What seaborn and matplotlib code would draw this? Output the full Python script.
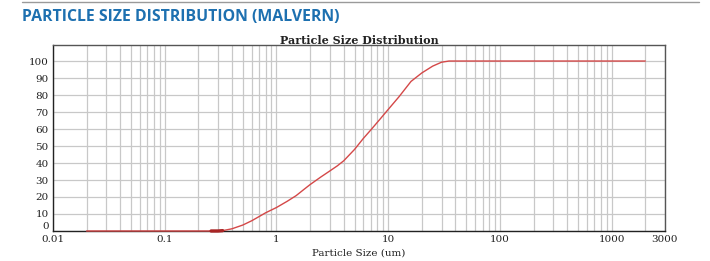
import matplotlib
matplotlib.use("Agg")
import matplotlib.pyplot as plt
import matplotlib.ticker as mticker
from matplotlib.lines import Line2D
import numpy as np
import pandas as pd
import seaborn as sns

# ---- data ----
size_um = [0.02, 0.1, 0.2, 0.26, 0.3, 0.33, 0.4, 0.5, 0.6, 0.7, 0.8, 1.0, 1.25, 1.5, 1.75, 2.0,
           2.5, 3.0, 3.5, 4.0, 5.0, 6.0, 7.0, 8.5, 10.0, 12.5, 16.0, 20.0, 25.0, 30.0, 35.0,
           100.0, 1000.0, 2000.0]
cum_pct = [0, 0, 0, 0, 0, 0.2, 1.3, 3.5, 6.0, 8.5, 10.7, 13.8, 17.5, 20.8, 24.3, 27.3,
           31.8, 35.3, 38.3, 41.3, 48.0, 54.5, 59.5, 66.0, 71.5, 79.0, 88.0, 93.0, 97.0, 99.3, 100,
           100, 100, 100]
x_tick_vals = [0.01, 0.1, 1, 10, 100, 1000, 3000]
x_tick_labels = ["0.01", "0.1", "1", "10", "100", "1000", "3000"]
y_tick_vals = [0, 10, 20, 30, 40, 50, 60, 70, 80, 90, 100]

df = pd.DataFrame({"size": size_um, "pct": cum_pct})
dark = df[(df["size"] >= 0.26) & (df["size"] <= 0.33)]

sns.set_style("white")
plt.rcParams["font.family"] = ["DejaVu Serif"]

fig = plt.figure(figsize=(7.10, 2.61), dpi=100)
ax = fig.add_axes([0.0746, 0.115, 0.862, 0.713])

sns.lineplot(data=df, x="size", y="pct", ax=ax, color="#d44848", linewidth=1.0,
             clip_on=False, zorder=3)
sns.lineplot(data=dark, x="size", y="pct", ax=ax, color="#a82424", linewidth=2.4,
             clip_on=False, zorder=3)

ax.set_xscale("log")
ax.set_xlim(0.01, 3000)
ax.set_ylim(0, 109.5)

ax.set_xticks(x_tick_vals)
ax.set_xticklabels(x_tick_labels)
ax.xaxis.set_minor_locator(mticker.LogLocator(base=10, subs=[2, 3, 4, 5, 6, 7, 8, 9], numticks=20))
ax.xaxis.set_minor_formatter(mticker.NullFormatter())
ax.set_yticks(y_tick_vals)
ax.yaxis.set_minor_locator(mticker.NullLocator())

ax.grid(True, which="both", axis="x", color="#c8c8c8", linewidth=0.9)
ax.grid(True, which="major", axis="y", color="#c8c8c8", linewidth=0.9)
ax.set_axisbelow(True)

ax.tick_params(axis="both", which="both", length=0, labelsize=7.5, colors="#222222")
ax.tick_params(axis="x", pad=3)
ax.tick_params(axis="y", pad=3)

# the "0" y label sits a little above the baseline, as in the reference
ax.get_yticklabels()[0].set_va("bottom")

for side in ["left", "bottom", "top", "right"]:
    ax.spines[side].set_visible(True)
    ax.spines[side].set_linewidth(1.0)
ax.spines["left"].set_color("#222222")
ax.spines["bottom"].set_color("#222222")
ax.spines["top"].set_color("#555555")
ax.spines["right"].set_color("#555555")

ax.set_xlabel("Particle Size (um)", fontsize=7.5, labelpad=3, color="#222222")
ax.set_ylabel("")
ax.set_title("Particle Size Distribution", fontsize=8, fontweight="bold",
             pad=1, color="#222222")

fig.text(0.031, 0.935, "PARTICLE SIZE DISTRIBUTION (MALVERN)", fontsize=11.4,
         fontweight="bold", color="#1d70b0", family=["Open Sans", "DejaVu Sans"],
         va="center", ha="left")
fig.add_artist(Line2D([0.031, 0.985], [0.993, 0.993], transform=fig.transFigure,
                      color="#9a9a9a", linewidth=1.0))

fig.savefig("out.png", dpi=100)
